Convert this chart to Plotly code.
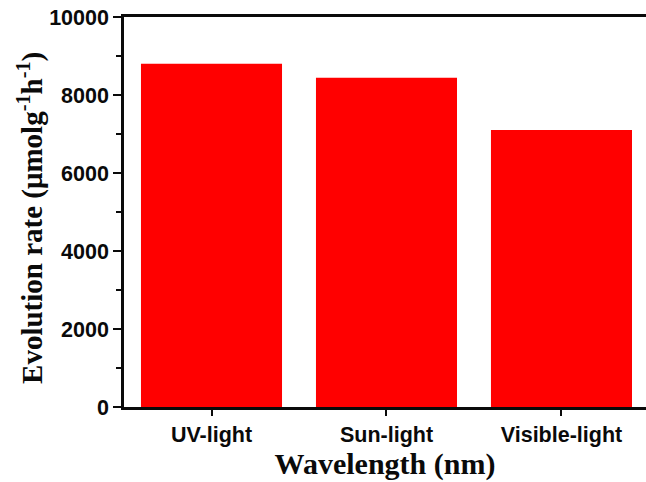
import plotly.graph_objects as go

# Hydrogen evolution rate under different light sources
sources = ["UV-light", "Sun-light", "Visible-light"]
evolution_rate = [8800, 8440, 7100]

y_tick_values = [0, 2000, 4000, 6000, 8000, 10000]
y_tick_labels = ["0", "2000", "4000", "6000", "8000", "10000"]

fig = go.Figure(
    go.Bar(
        x=sources,
        y=evolution_rate,
        marker=dict(color="#ff0000", line=dict(width=0)),
    )
)

ink = "#0a0a0a"
tick_font = dict(family="Liberation Sans, Arial", size=21.5, color=ink, weight="bold")
title_font = dict(family="Liberation Serif, Times New Roman", size=30, color=ink, weight="bold")

fig.update_layout(
    width=646,
    height=482,
    margin=dict(l=124, r=0, t=17, b=75),
    paper_bgcolor="white",
    plot_bgcolor="white",
    bargap=0.194,
    showlegend=False,
)

fig.update_xaxes(
    type="category",
    range=[-0.5, 2.483],
    showline=True,
    linecolor=ink,
    linewidth=2.5,
    mirror=True,
    ticks="outside",
    ticklen=6,
    tickwidth=2,
    tickcolor=ink,
    tickfont=tick_font,
    showgrid=False,
    zeroline=False,
    title=dict(text="Wavelength (nm)", font=title_font, standoff=3),
)

fig.update_yaxes(
    range=[0, 10000],
    tickvals=y_tick_values,
    ticktext=y_tick_labels,
    showline=True,
    linecolor=ink,
    linewidth=2.5,
    mirror=False,
    ticks="outside",
    ticklen=8,
    tickwidth=2,
    tickcolor=ink,
    tickfont=tick_font,
    minor=dict(dtick=1000, ticks="outside", ticklen=5, tickwidth=2, tickcolor=ink, showgrid=False),
    showgrid=False,
    zeroline=False,
)

# Y-axis title placed as a rotated annotation left of the tick labels
fig.add_annotation(
    text="Evolution rate (\u03bcmolg<sup>-1</sup>h<sup>-1</sup>)",
    xref="paper",
    yref="paper",
    x=-0.178,
    y=0.485,
    xanchor="center",
    yanchor="middle",
    textangle=-90,
    showarrow=False,
    font=dict(family="Liberation Serif, Times New Roman", size=29, color=ink, weight="bold"),
)

fig.write_html("out.html")
